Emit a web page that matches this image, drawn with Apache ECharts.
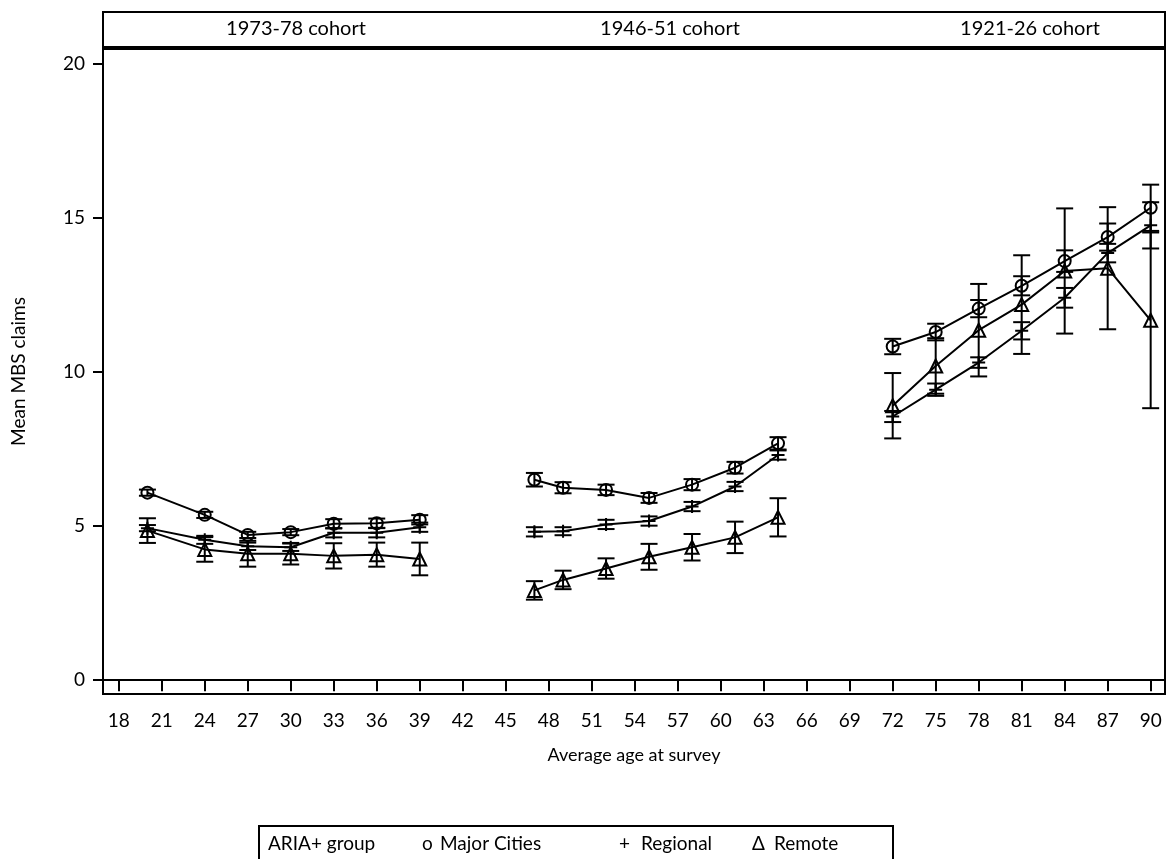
<!DOCTYPE html>
<html><head><meta charset="utf-8">
<script src="https://cdn.jsdelivr.net/npm/echarts@6/dist/echarts.min.js"></script>
<style>html,body{margin:0;padding:0;background:#fff}#c{width:1167px;height:859px}</style>
</head><body><div id="c"></div>
<script>
// ---- data ----
const cohortLabels = ['1973-78 cohort', '1946-51 cohort', '1921-26 cohort'];
const ages = [[20, 24, 27, 30, 33, 36, 39], [47, 49, 52, 55, 58, 61, 64], [72, 75, 78, 81, 84, 87, 90]];
const majorMean = [[6.08, 5.36, 4.71, 4.80, 5.07, 5.09, 5.20], [6.50, 6.24, 6.17, 5.91, 6.34, 6.89, 7.68], [10.82, 11.29, 12.05, 12.79, 13.59, 14.37, 15.32]];
const majorErr = [[0.10, 0.10, 0.10, 0.10, 0.15, 0.15, 0.15], [0.22, 0.18, 0.17, 0.16, 0.18, 0.19, 0.20], [0.25, 0.27, 0.28, 0.31, 0.35, 0.44, 0.75]];
const regionalMean = [[4.93, 4.55, 4.34, 4.31, 4.78, 4.78, 4.96], [4.81, 4.83, 5.05, 5.16, 5.63, 6.28, 7.30], [8.55, 9.42, 10.30, 11.33, 12.40, 13.85, 14.75]];
const regionalErr = [[0.10, 0.13, 0.12, 0.12, 0.15, 0.15, 0.15], [0.15, 0.13, 0.15, 0.15, 0.15, 0.15, 0.15], [0.18, 0.20, 0.17, 0.28, 0.32, 0.30, 0.75]];
const remoteMean = [[4.85, 4.24, 4.10, 4.10, 4.03, 4.07, 3.93], [2.91, 3.25, 3.62, 4.00, 4.31, 4.63, 5.28], [8.90, 10.19, 11.35, 12.18, 13.27, 13.36, 11.67]];
const remoteErr = [[0.40, 0.40, 0.42, 0.35, 0.41, 0.39, 0.53], [0.30, 0.30, 0.33, 0.42, 0.43, 0.51, 0.62], [1.06, 0.90, 1.50, 1.60, 2.03, 1.98, 2.85]];
const xTicks = [18, 21, 24, 27, 30, 33, 36, 39, 42, 45, 48, 51, 54, 57, 60, 63, 66, 69, 72, 75, 78, 81, 84, 87, 90];
const yTicks = [0, 5, 10, 15, 20];
const legendTitle = 'ARIA+ group';
const groupNames = ['Major Cities', 'Regional', 'Remote'];
const legendGlyphs = ['o', '+', 'Δ'];

// ---- build ----
const FONT = 'Lato, "Open Sans", sans-serif';
const FS = 19;
const groups = [
  {mean: majorMean, err: majorErr, symbol: 'circle', size: 12},
  {mean: regionalMean, err: regionalErr, symbol: 'path://M0,6H12M6,0V12', size: 13},
  {mean: remoteMean, err: remoteErr, symbol: 'triangle', size: 13}
];

function errRender(params, api) {
  const x = api.value(0), lo = api.value(1), hi = api.value(2);
  const a = api.coord([x, lo]), b = api.coord([x, hi]);
  const w = 8.5;
  const st = {stroke: '#000', lineWidth: 2};
  return {type: 'group', children: [
    {type: 'line', shape: {x1: a[0], y1: a[1], x2: b[0], y2: b[1]}, style: st},
    {type: 'line', shape: {x1: a[0] - w, y1: a[1], x2: a[0] + w, y2: a[1]}, style: st},
    {type: 'line', shape: {x1: b[0] - w, y1: b[1], x2: b[0] + w, y2: b[1]}, style: st}
  ]};
}

const series = [];
groups.forEach(function (g) {
  for (let c = 0; c < 3; c++) {
    const pts = ages[c].map(function (a, i) { return [a, g.mean[c][i]]; });
    const bars = ages[c].map(function (a, i) { return [a, g.mean[c][i] - g.err[c][i], g.mean[c][i] + g.err[c][i]]; });
    series.push({
      type: 'custom', renderItem: errRender, data: bars, encode: {x: 0, y: [1, 2]},
      silent: true, animation: false, z: 2
    });
    series.push({
      type: 'line', data: pts, symbol: g.symbol, symbolSize: g.size, showSymbol: true,
      lineStyle: {color: '#000', width: 2},
      itemStyle: {color: 'transparent', borderColor: '#000', borderWidth: 2},
      animation: false, z: 3, silent: true
    });
  }
});

function txt(x, y, s, align, fs) {
  return {type: 'text', x: x, y: y, silent: true,
    style: {text: s, font: (fs || FS) + 'px ' + FONT, fill: '#000', align: align || 'left', verticalAlign: 'middle'}};
}

const chart = echarts.init(document.getElementById('c'), null, {renderer: 'canvas'});
const option = {
  backgroundColor: '#fff',
  animation: false,
  grid: {left: 103, right: 2, top: 49, bottom: 165, show: true, borderColor: '#000', borderWidth: 2, backgroundColor: 'transparent'},
  xAxis: {
    type: 'value', min: 16.9, max: 91,
    name: 'Average age at survey', nameLocation: 'middle', nameGap: 52,
    nameTextStyle: {fontFamily: FONT, fontSize: 18, color: '#000'},
    axisLine: {show: true, lineStyle: {color: '#000', width: 2}},
    axisTick: {show: true, length: 11, lineStyle: {color: '#000', width: 2}, customValues: xTicks},
    axisLabel: {show: true, margin: 17, fontFamily: FONT, fontSize: FS, color: '#000', customValues: xTicks},
    splitLine: {show: false}
  },
  yAxis: {
    type: 'value', min: -0.45, max: 20.47,
    name: 'Mean MBS claims', nameLocation: 'middle', nameGap: 75, nameRotate: 90,
    nameTextStyle: {fontFamily: FONT, fontSize: FS, color: '#000'},
    axisLine: {show: true, lineStyle: {color: '#000', width: 2}},
    axisTick: {show: true, length: 10, lineStyle: {color: '#000', width: 2}, customValues: yTicks},
    axisLabel: {show: true, margin: 18, fontFamily: FONT, fontSize: FS, color: '#000', customValues: yTicks},
    splitLine: {show: false}
  },
  series: series,
  graphic: [
    {type: 'rect', shape: {x: 103, y: 12, width: 1062, height: 35}, style: {fill: '#fff', stroke: '#000', lineWidth: 2}, silent: true},
    txt(296, 29, cohortLabels[0], 'center', 20),
    txt(670, 29, cohortLabels[1], 'center', 20),
    txt(1030, 29, cohortLabels[2], 'center', 20),
    {type: 'rect', shape: {x: 259, y: 826, width: 634, height: 50}, style: {fill: '#fff', stroke: '#000', lineWidth: 2}, silent: true},
    txt(268, 844, legendTitle),
    txt(422, 844, legendGlyphs[0]),
    txt(440, 844, groupNames[0]),
    txt(619, 844, legendGlyphs[1]),
    txt(641, 844, groupNames[1]),
    txt(752, 844, legendGlyphs[2]),
    txt(774, 844, groupNames[2])
  ]
};
chart.setOption(option);
</script>
</body></html>
